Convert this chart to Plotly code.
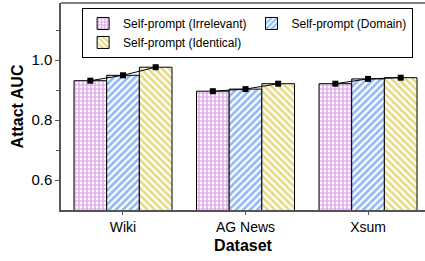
import plotly.graph_objects as go

datasets = ["Wiki", "AG News", "Xsum"]
series_names = ["Self-prompt (Irrelevant)", "Self-prompt (Domain)", "Self-prompt (Identical)"]
irrelevant = [0.931, 0.896, 0.921]
domain = [0.949, 0.903, 0.937]
identical = [0.976, 0.921, 0.941]
y_ticks = [0.6, 0.8, 1.0]

values = [irrelevant, domain, identical]
colors = ["#B22ED0", "#2A76E8", "#D0B814"]
shapes = ["+", "/", "\\"]
sizes = [4, 5, 5]
solid = [0.5, 0.55, 0.55]

FONT = "Liberation Sans, Arial, sans-serif"
xs = list(range(len(datasets)))
bargap = 0.2
bw = (1 - bargap) / len(values)

fig = go.Figure()
for i, (name, vals) in enumerate(zip(series_names, values)):
    fig.add_trace(go.Bar(
        x=xs, y=vals, name=name,
        marker=dict(
            color="white",
            line=dict(color="black", width=1),
            pattern=dict(shape=shapes[i], fgcolor=colors[i], bgcolor="white",
                         size=sizes[i], solidity=solid[i], fillmode="overlay"),
        ),
    ))

# connecting lines with markers at bar tops (within each group)
for gi in xs:
    px = [gi + (k - 1) * bw for k in range(len(values))]
    py = [values[k][gi] for k in range(len(values))]
    fig.add_trace(go.Scatter(
        x=px, y=py, mode="lines+markers", showlegend=False,
        line=dict(color="black", width=1),
        marker=dict(symbol="square", size=6, color="black"),
    ))

fig.update_layout(
    width=425, height=261,
    margin=dict(l=61, r=0, t=3, b=51),
    barmode="group", bargap=bargap, bargroupgap=0,
    plot_bgcolor="white", paper_bgcolor="white",
    font=dict(family=FONT, color="black"),
    legend=dict(
        orientation="h", x=0.058, y=0.976, xanchor="left", yanchor="top",
        bordercolor="black", borderwidth=1, bgcolor="white",
        font=dict(size=12, family=FONT),
        tracegroupgap=0, itemwidth=30,
    ),
    showlegend=True,
)
fig.update_xaxes(
    range=[-0.506, 2.465], tickmode="array", tickvals=xs, ticktext=datasets,
    showline=True, linecolor="#555555", linewidth=1.5,
    ticks="outside", ticklen=3, tickcolor="#555555",
    tickfont=dict(size=14, family=FONT),
    showgrid=False, zeroline=False, automargin=False,
    title=dict(text="<b>Dataset</b>", font=dict(size=16, family=FONT), standoff=6),
)
fig.update_yaxes(
    range=[0.5, 1.19], tickmode="array", tickvals=y_ticks,
    ticktext=[f"{v:.1f}" for v in y_ticks],
    showline=True, linecolor="#555555", linewidth=1.5, mirror=False,
    ticks="outside", ticklen=4, tickcolor="#555555",
    minor=dict(ticks="outside", ticklen=3, tickvals=[0.7, 0.9, 1.1], tickcolor="#555555"),
    tickfont=dict(size=15, family=FONT),
    showgrid=False, zeroline=False, automargin=False,
    title=dict(text="<b>Attact AUC</b>", font=dict(size=16, family=FONT), standoff=4),
)
# top border
fig.add_shape(type="line", xref="paper", yref="paper", x0=0, x1=1, y0=1, y1=1,
              line=dict(color="#555555", width=1.5))

fig.write_html("out.html", config={"displayModeBar": False},
               post_script="document.body.style.margin='0';")
